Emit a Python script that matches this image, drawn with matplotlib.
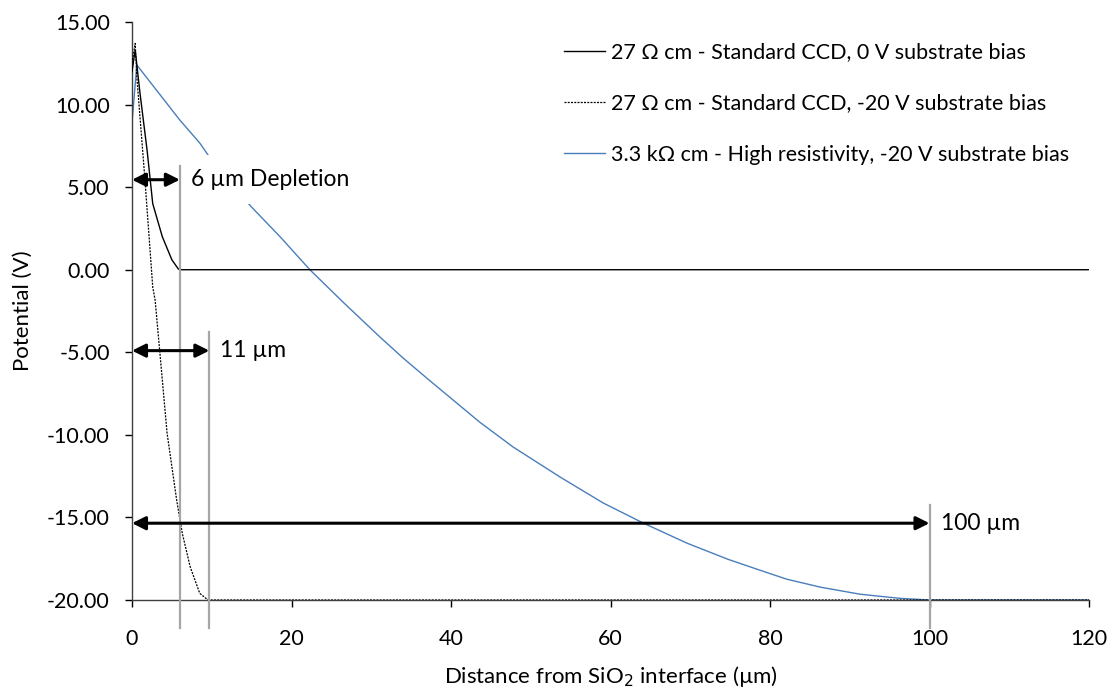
import matplotlib
matplotlib.use("Agg")
import matplotlib.pyplot as plt

# 27 ohm cm, 0 V substrate bias
x_std0 = [0, 0.4, 1.0, 1.9, 2.6, 3.8, 5.0, 5.8, 6.0, 120]
v_std0 = [12.0, 13.3, 10.7, 7.2, 4.0, 2.0, 0.6, 0.05, 0.0, 0.0]

# 27 ohm cm, -20 V substrate bias
x_std20 = [0, 0.4, 0.6, 1.6, 2.6, 2.9, 3.5, 4.4, 5.6, 6.3, 7.3, 8.5, 9.4, 9.7, 120]
v_std20 = [12.5, 13.7, 11.7, 5.6, -1.05, -1.84, -5.05, -9.9, -13.95, -15.95,
           -18.0, -19.6, -19.95, -20.0, -20.0]

# 3.3 kohm cm, -20 V substrate bias
x_hr = [0, 0.6, 6.0, 8.5, 9.8, 12.4, 15.0, 18.6, 22.3, 26.5, 31.1, 34.0, 37.1,
        43.6, 47.8, 53.7, 59.1, 64.1, 69.6, 74.7, 78.7, 82.1, 86.3, 91.3, 96.3,
        100, 120]
v_hr = [8.9, 12.4, 9.06, 7.67, 6.76, 5.2, 3.79, 1.98, 0.0, -1.98, -4.08, -5.35,
        -6.62, -9.23, -10.74, -12.56, -14.13, -15.34, -16.56, -17.53, -18.19,
        -18.74, -19.22, -19.65, -19.9, -20.0, -20.0]

labels = ["27 Ω cm - Standard CCD, 0 V substrate bias",
          "27 Ω cm - Standard CCD, -20 V substrate bias",
          "3.3 kΩ cm - High resistivity, -20 V substrate bias"]

# depletion markers
depth_x = [6, 9.7, 100]
depth_top = [6.3, -3.8, -14.25]
depth_bottom = -21.7
arrow_y = [5.45, -4.9, -15.35]
depth_text = ["6 µm Depletion", "11 µm", "100 µm"]

x_ticks = [0, 20, 40, 60, 80, 100, 120]
y_ticks = [15, 10, 5, 0, -5, -10, -15, -20]

FONT = "Lato"
BLUE = "#4A7EBB"
GREY = "#A6A6A6"

fig = plt.figure(figsize=(11.2, 6.93), dpi=100)
ax = fig.add_axes([132 / 1120, 1 - 600 / 693, (1089 - 132) / 1120, (600 - 22) / 693])

ax.plot(x_std0, v_std0, color="black", lw=1.0, label=labels[0], zorder=3)
ax.plot(x_std20, v_std20, color="black", lw=0.9, ls=(0, (1.6, 1)), label=labels[1], zorder=3)
ax.plot(x_hr, v_hr, color=BLUE, lw=1.0, label=labels[2], zorder=2)

for xd, top in zip(depth_x, depth_top):
    ax.plot([xd, xd], [depth_bottom, top], color=GREY, lw=1.6, clip_on=False, zorder=6)

for xd, ya, txt in zip(depth_x, arrow_y, depth_text):
    ax.annotate("", xy=(xd, ya), xytext=(0, ya),
                arrowprops=dict(arrowstyle="<|-|>", lw=2.2, color="black",
                                mutation_scale=20, shrinkA=0, shrinkB=0),
                zorder=7, annotation_clip=False)
    ax.annotate(txt, xy=(xd, ya), xytext=(8, 0), textcoords="offset points",
                ha="left", va="center", fontsize=16.5, family=FONT,
                bbox=dict(facecolor="white", edgecolor="none", pad=10),
                zorder=5)

ax.set_xlim(0, 120)
ax.set_ylim(-20, 15)
ax.set_xticks(x_ticks)
ax.set_yticks(y_ticks)
ax.set_yticklabels(["%.2f" % v for v in y_ticks])
for lab in ax.get_xticklabels() + ax.get_yticklabels():
    lab.set_family(FONT)
    lab.set_fontsize(15.5)
ax.tick_params(direction="out", length=5, width=1, colors="black")
ax.tick_params(axis="x", pad=16)
ax.tick_params(axis="y", pad=11)

for s in ["top", "right"]:
    ax.spines[s].set_visible(False)
for s in ["left", "bottom"]:
    ax.spines[s].set_color("#404040")
    ax.spines[s].set_linewidth(1.0)

ax.set_xlabel("Distance from SiO$_2$ interface (µm)", family=FONT, fontsize=16, labelpad=11)
ax.set_ylabel("Potential (V)", family=FONT, fontsize=16, labelpad=10)

ax.legend(loc="upper left", bbox_to_anchor=(0.442, 0.980), frameon=False,
          prop={"family": FONT, "size": 15.5}, handlelength=1.9, handletextpad=0.3,
          labelspacing=1.45, borderaxespad=0)

fig.savefig("out.png", dpi=100)
